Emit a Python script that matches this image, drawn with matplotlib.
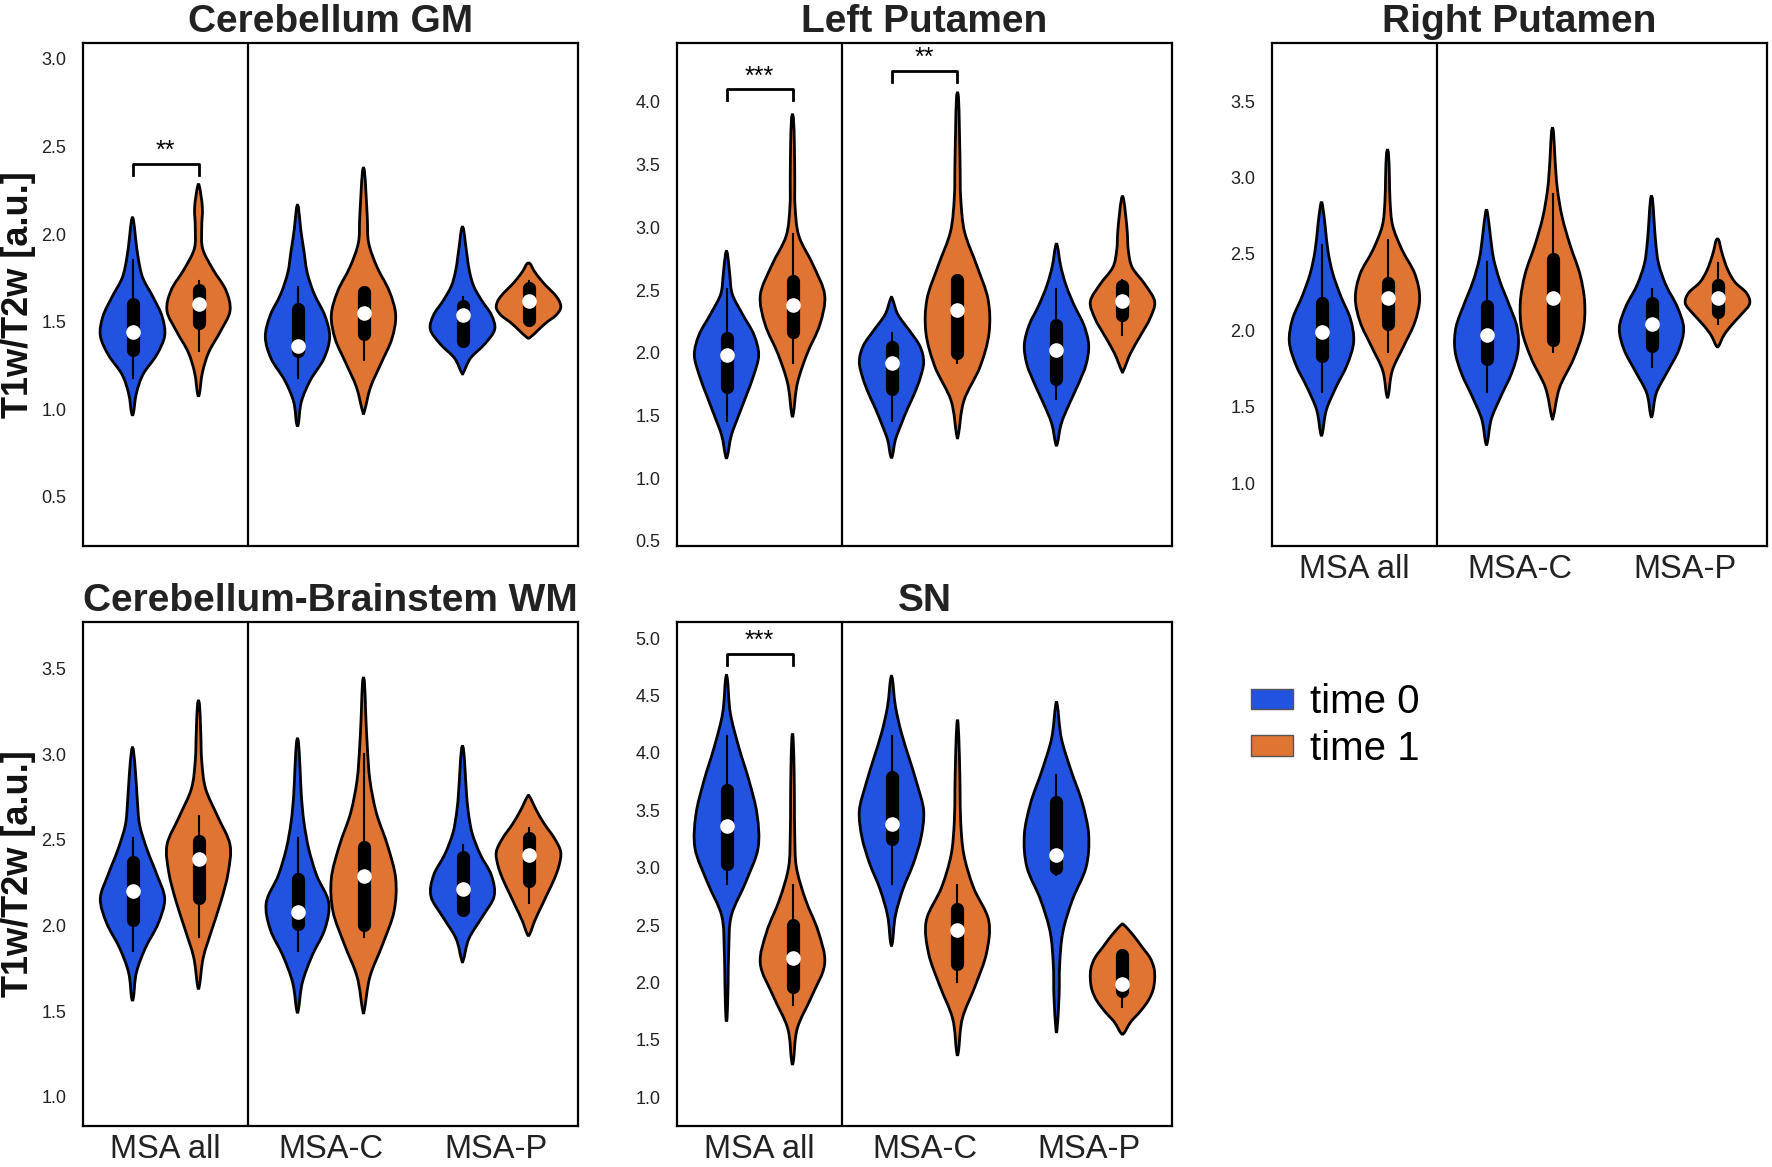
import numpy as np
import matplotlib
matplotlib.use("Agg")
import matplotlib.pyplot as plt
from matplotlib.path import Path
from matplotlib.patches import PathPatch, Patch

plt.rcParams['font.family'] = ['Liberation Sans', 'DejaVu Sans']

# order in every list: MSA all t0, MSA all t1, MSA-C t0, MSA-C t1, MSA-P t0, MSA-P t1
groups = ["MSA all", "MSA-C", "MSA-P"]
hues = ["time 0", "time 1"]
colors = ["#2152e0", "#e07432"]

# Cerebellum GM
gm_lo = [0.98, 1.09, 0.92, 0.99, 1.21, 1.41]
gm_hi = [2.08, 2.27, 2.15, 2.36, 2.03, 1.83]
gm_q1 = [1.34, 1.49, 1.33, 1.43, 1.39, 1.51]
gm_med = [1.44, 1.60, 1.36, 1.55, 1.54, 1.62]
gm_q3 = [1.60, 1.68, 1.57, 1.67, 1.59, 1.69]
gm_wlo = [1.18, 1.33, 1.18, 1.28, 1.39, 1.51]
gm_whi = [1.85, 1.73, 1.70, 1.67, 1.64, 1.73]
gm_shape = [
    [0.03, 0.12, 0.33, 0.75, 1.0, 0.92, 0.64, 0.32, 0.18, 0.10, 0.03],
    [0.03, 0.12, 0.32, 0.68, 0.98, 0.85, 0.45, 0.13, 0.10, 0.12, 0.03],
    [0.03, 0.12, 0.40, 0.82, 1.0, 0.85, 0.52, 0.30, 0.20, 0.10, 0.03],
    [0.03, 0.22, 0.55, 0.88, 1.0, 0.80, 0.42, 0.16, 0.12, 0.08, 0.03],
    [0.03, 0.25, 0.70, 1.0, 0.90, 0.60, 0.35, 0.22, 0.15, 0.09, 0.03],
    [0.05, 0.30, 0.55, 0.85, 1.0, 0.95, 0.78, 0.55, 0.35, 0.18, 0.05],
]

# Left Putamen
lp_lo = [1.18, 1.52, 1.18, 1.35, 1.28, 1.86]
lp_hi = [2.79, 3.87, 2.43, 4.04, 2.85, 3.23]
lp_q1 = [1.73, 2.17, 1.71, 2.00, 1.79, 2.30]
lp_med = [1.98, 2.38, 1.92, 2.34, 2.02, 2.41]
lp_q3 = [2.12, 2.57, 2.05, 2.58, 2.22, 2.53]
lp_wlo = [1.46, 1.92, 1.46, 1.92, 1.63, 2.14]
lp_whi = [2.51, 2.95, 2.16, 2.58, 2.51, 2.58]
lp_shape = [
    [0.03, 0.15, 0.38, 0.62, 0.85, 1.0, 0.85, 0.50, 0.18, 0.10, 0.03],
    [0.03, 0.15, 0.45, 0.85, 1.0, 0.65, 0.20, 0.08, 0.07, 0.06, 0.03],
    [0.03, 0.12, 0.30, 0.50, 0.72, 0.90, 1.0, 0.88, 0.55, 0.20, 0.03],
    [0.03, 0.20, 0.70, 0.98, 0.95, 0.60, 0.22, 0.10, 0.08, 0.06, 0.03],
    [0.03, 0.15, 0.40, 0.68, 0.92, 1.0, 0.85, 0.55, 0.30, 0.13, 0.03],
    [0.03, 0.25, 0.55, 0.85, 1.0, 0.70, 0.30, 0.18, 0.15, 0.10, 0.03],
]

# Right Putamen
rp_lo = [1.33, 1.58, 1.27, 1.44, 1.45, 1.90]
rp_hi = [2.82, 3.16, 2.77, 3.30, 2.86, 2.59]
rp_q1 = [1.83, 2.04, 1.81, 1.94, 1.90, 2.12]
rp_med = [1.99, 2.21, 1.97, 2.21, 2.04, 2.21]
rp_q3 = [2.18, 2.31, 2.16, 2.47, 2.18, 2.30]
rp_wlo = [1.60, 1.86, 1.60, 1.86, 1.76, 2.04]
rp_whi = [2.56, 2.59, 2.45, 2.89, 2.27, 2.44]
rp_shape = [
    [0.03, 0.15, 0.45, 0.80, 1.0, 0.90, 0.60, 0.35, 0.20, 0.12, 0.03],
    [0.03, 0.15, 0.50, 0.85, 1.0, 0.85, 0.45, 0.16, 0.08, 0.06, 0.03],
    [0.03, 0.15, 0.45, 0.78, 0.98, 0.95, 0.70, 0.42, 0.22, 0.12, 0.03],
    [0.03, 0.22, 0.65, 0.95, 1.0, 0.85, 0.55, 0.30, 0.15, 0.08, 0.03],
    [0.03, 0.15, 0.50, 0.85, 1.0, 0.80, 0.45, 0.22, 0.13, 0.08, 0.03],
    [0.04, 0.20, 0.45, 0.75, 1.0, 0.90, 0.55, 0.35, 0.22, 0.12, 0.04],
]

# Cerebellum-Brainstem WM
wm_lo = [1.58, 1.65, 1.51, 1.51, 1.80, 1.95]
wm_hi = [3.02, 3.29, 3.07, 3.42, 3.03, 2.75]
wm_q1 = [2.03, 2.16, 2.01, 2.00, 2.09, 2.26]
wm_med = [2.20, 2.39, 2.08, 2.29, 2.21, 2.41]
wm_q3 = [2.37, 2.49, 2.27, 2.46, 2.40, 2.51]
wm_wlo = [1.85, 1.93, 1.85, 1.93, 2.09, 2.13]
wm_whi = [2.51, 2.64, 2.51, 3.00, 2.47, 2.57]
wm_shape = [
    [0.03, 0.12, 0.40, 0.80, 1.0, 0.75, 0.45, 0.22, 0.15, 0.10, 0.03],
    [0.03, 0.15, 0.42, 0.70, 0.92, 0.98, 0.60, 0.22, 0.10, 0.07, 0.03],
    [0.03, 0.15, 0.45, 0.85, 0.97, 0.60, 0.35, 0.20, 0.12, 0.08, 0.03],
    [0.03, 0.20, 0.60, 0.95, 1.0, 0.75, 0.40, 0.20, 0.12, 0.07, 0.03],
    [0.03, 0.20, 0.60, 0.98, 0.90, 0.55, 0.30, 0.18, 0.12, 0.08, 0.03],
    [0.04, 0.20, 0.40, 0.60, 0.80, 0.95, 1.0, 0.80, 0.50, 0.25, 0.04],
]

# SN
sn_lo = [1.70, 1.32, 2.35, 1.40, 1.60, 1.56]
sn_hi = [4.64, 4.13, 4.64, 4.25, 4.41, 2.50]
sn_q1 = [3.03, 1.96, 3.25, 2.16, 3.00, 1.93]
sn_med = [3.36, 2.21, 3.38, 2.46, 3.11, 1.99]
sn_q3 = [3.68, 2.50, 3.79, 2.64, 3.57, 2.24]
sn_wlo = [2.86, 1.80, 2.86, 2.00, 2.94, 1.79]
sn_whi = [4.15, 2.85, 4.15, 2.85, 3.81, 2.27]
sn_shape = [
    [0.02, 0.05, 0.07, 0.15, 0.60, 0.98, 0.95, 0.70, 0.38, 0.12, 0.03],
    [0.03, 0.15, 0.60, 1.0, 0.80, 0.40, 0.12, 0.07, 0.06, 0.05, 0.02],
    [0.03, 0.12, 0.35, 0.68, 0.92, 1.0, 0.80, 0.55, 0.30, 0.12, 0.03],
    [0.03, 0.15, 0.55, 0.90, 0.97, 0.50, 0.20, 0.10, 0.08, 0.06, 0.02],
    [0.02, 0.08, 0.10, 0.20, 0.50, 0.92, 1.0, 0.80, 0.45, 0.15, 0.03],
    [0.05, 0.25, 0.55, 0.80, 0.95, 1.0, 0.98, 0.85, 0.60, 0.35, 0.05],
]

# significance brackets: (group index, bracket height, label)
gm_sig = [(0, 2.40, "**")]
lp_sig = [(0, 4.10, "***"), (1, 4.25, "**")]
rp_sig = []
wm_sig = []
sn_sig = [(0, 4.86, "***")]

panels = [
    ("Cerebellum GM", gm_lo, gm_hi, gm_q1, gm_med, gm_q3, gm_wlo, gm_whi, gm_shape, gm_sig,
     (0.22, 3.09), [0.5, 1.0, 1.5, 2.0, 2.5, 3.0]),
    ("Left Putamen", lp_lo, lp_hi, lp_q1, lp_med, lp_q3, lp_wlo, lp_whi, lp_shape, lp_sig,
     (0.46, 4.47), [0.5, 1.0, 1.5, 2.0, 2.5, 3.0, 3.5, 4.0]),
    ("Right Putamen", rp_lo, rp_hi, rp_q1, rp_med, rp_q3, rp_wlo, rp_whi, rp_shape, rp_sig,
     (0.59, 3.88), [1.0, 1.5, 2.0, 2.5, 3.0, 3.5]),
    ("Cerebellum-Brainstem WM", wm_lo, wm_hi, wm_q1, wm_med, wm_q3, wm_wlo, wm_whi, wm_shape, wm_sig,
     (0.83, 3.77), [1.0, 1.5, 2.0, 2.5, 3.0, 3.5]),
    ("SN", sn_lo, sn_hi, sn_q1, sn_med, sn_q3, sn_wlo, sn_whi, sn_shape, sn_sig,
     (0.75, 5.14), [1.0, 1.5, 2.0, 2.5, 3.0, 3.5, 4.0, 4.5, 5.0]),
]


def violin_path(xc, lo, hi, shape, hw):
    # closed catmull-rom outline through the profile points
    n = len(shape)
    ys = [lo + (hi - lo) * i / (n - 1) for i in range(n)]
    pts = [(xc + hw * w, y) for w, y in zip(shape, ys)]
    pts += [(xc - hw * w, y) for w, y in zip(shape[::-1], ys[::-1])]
    pts = np.array(pts)
    m = len(pts)
    verts = [pts[0]]
    codes = [Path.MOVETO]
    for i in range(m):
        p0, p1, p2, p3 = pts[i - 1], pts[i], pts[(i + 1) % m], pts[(i + 2) % m]
        verts += [p1 + (p2 - p0) / 6.0, p2 - (p3 - p1) / 6.0, p2]
        codes += [Path.CURVE4] * 3
    verts.append(pts[0])
    codes.append(Path.CLOSEPOLY)
    return Path(verts, codes)


fig = plt.figure(figsize=(17.72, 11.67), dpi=100)
W = 495 / 1772
positions = [
    (83 / 1772, 1 - 546 / 1167, W, 503 / 1167),
    (677 / 1772, 1 - 546 / 1167, W, 503 / 1167),
    (1272 / 1772, 1 - 546 / 1167, W, 503 / 1167),
    (83 / 1772, 1 - 1126 / 1167, W, 504 / 1167),
    (677 / 1772, 1 - 1126 / 1167, W, 504 / 1167),
]

for k, (title, lo, hi, q1, med, q3, wlo, whi, shape, sig, ylim, yt) in enumerate(panels):
    ax = fig.add_axes(positions[k])
    for i in range(6):
        g, h = i // 2, i % 2
        xc = g + (-0.2 if h == 0 else 0.2)
        p = violin_path(xc, lo[i], hi[i], shape[i], 0.195)
        ax.add_patch(PathPatch(p, facecolor=colors[h], edgecolor="black", lw=2.0, zorder=2))
        ax.plot([xc, xc], [wlo[i], whi[i]], color="black", lw=1.5, zorder=3)
        ax.plot([xc, xc], [q1[i], q3[i]], color="black", lw=9.5,
                solid_capstyle="round", zorder=4)
        ax.plot(xc, med[i], "o", color="white", ms=10.5, mec="none", zorder=5)
    ax.axvline(0.5, color="black", lw=1.6, zorder=1)
    yr = ylim[1] - ylim[0]
    for g, yb, lab in sig:
        d = 0.022 * yr
        ax.plot([g - 0.2, g - 0.2, g + 0.2, g + 0.2], [yb - d, yb, yb, yb - d],
                color="black", lw=2.0, zorder=3)
        ax.text(g, yb + 0.002 * yr, lab, ha="center", va="bottom", fontsize=18)
    ax.set_xlim(-0.5, 2.5)
    ax.set_ylim(*ylim)
    ax.set_yticks(yt)
    ax.set_yticklabels(["%.1f" % v for v in yt], fontsize=13, color="#222222")
    ax.set_xticks([0, 1, 2])
    if k >= 2:
        ax.set_xticklabels(groups, fontsize=23.5, color="#222222")
    else:
        ax.set_xticklabels([])
    ax.tick_params(length=0, axis="y", pad=12)
    ax.tick_params(length=0, axis="x", pad=6)
    for s in ax.spines.values():
        s.set_linewidth(1.6)
    ax.set_title(title, fontsize=28, fontweight="bold", color="#222222", pad=8)
    if k in (0, 3):
        ax.set_ylabel("T1w/T2w [a.u.]", fontsize=26, fontweight="bold", color="#111111")
        ax.yaxis.set_label_coords(-0.094, 0.5)

handles = [Patch(facecolor=colors[0], edgecolor="#555555", label=hues[0]),
           Patch(facecolor=colors[1], edgecolor="#555555", label=hues[1])]
fig.legend(handles=handles, loc="center left", bbox_to_anchor=(0.690, 0.378),
           frameon=False, fontsize=29, handlelength=1.05, handleheight=0.42,
           handletextpad=0.42, labelspacing=0.22, borderpad=0.2)

fig.savefig("out.png", dpi=100)
